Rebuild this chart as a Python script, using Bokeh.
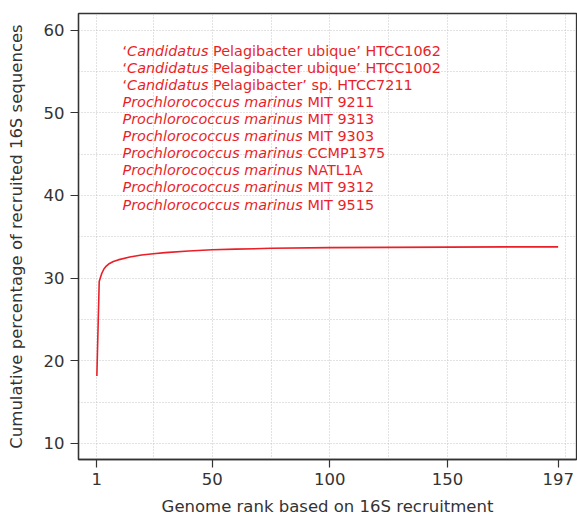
from bokeh.plotting import figure
from bokeh.models import Range1d, FixedTicker, ColumnDataSource
from bokeh.core.properties import value
from bokeh.embed import file_html
from bokeh.resources import INLINE

# ---- data ----
rank = [1, 2, 3, 4, 5, 6, 8, 10, 15, 20, 25, 30, 40, 50, 60, 75, 100, 125, 150, 175, 197]
cum_pct = [18.15, 29.6, 30.5, 31.1, 31.45, 31.7, 32.0, 32.2, 32.55, 32.8, 32.95, 33.08,
           33.28, 33.42, 33.5, 33.6, 33.68, 33.72, 33.75, 33.77, 33.78]

x_tick_labels = [1, 50, 100, 150, 197]
y_tick_labels = [10, 20, 30, 40, 50, 60]
x_grid = [1, 25, 50, 75, 100, 125, 150, 175, 200]
y_grid = [10, 15, 20, 25, 30, 35, 40, 45, 50, 55, 60]

genome_quote = ["\u2018", "\u2018", "\u2018", "", "", "", "", "", "", ""]
genome_italic = ["Candidatus", "Candidatus", "Candidatus",
                 "Prochlorococcus marinus", "Prochlorococcus marinus",
                 "Prochlorococcus marinus", "Prochlorococcus marinus",
                 "Prochlorococcus marinus", "Prochlorococcus marinus",
                 "Prochlorococcus marinus"]
genome_rest = ["Pelagibacter ubique\u2019 HTCC1062", "Pelagibacter ubique\u2019 HTCC1002",
               "Pelagibacter\u2019 sp. HTCC7211", "MIT 9211", "MIT 9313", "MIT 9303",
               "CCMP1375", "NATL1A", "MIT 9312", "MIT 9515"]

RED = "#ea1f27"
DARK = "#333333"
FONT = "DejaVu Sans"

p = figure(width=577, height=518,
           x_range=Range1d(-6.8, 204.8), y_range=Range1d(8.06, 62.0),
           output_backend="svg", toolbar_location=None,
           min_border_left=78, min_border_right=1, min_border_top=13, min_border_bottom=59)
p.background_fill_color = "white"
p.border_fill_color = "white"
p.outline_line_color = DARK
p.outline_line_width = 1.3

# axes
for ax in (p.xaxis[0], p.yaxis[0]):
    ax.axis_line_color = DARK
    ax.axis_line_width = 1.3
    ax.major_tick_line_color = DARK
    ax.major_tick_line_width = 1.2
    ax.major_tick_out = 8
    ax.major_tick_in = 0
    ax.minor_tick_line_color = None
    ax.major_label_text_font = FONT
    ax.major_label_text_font_size = "16.5px"
    ax.major_label_text_color = DARK
    ax.axis_label_text_font = FONT
    ax.axis_label_text_font_size = "16.5px"
    ax.axis_label_text_font_style = "normal"
    ax.axis_label_text_color = DARK

p.xaxis.ticker = FixedTicker(ticks=x_tick_labels)
p.yaxis.ticker = FixedTicker(ticks=y_tick_labels)
p.xaxis.major_label_standoff = 5
p.yaxis.major_label_standoff = 6
p.xaxis.axis_label = "Genome rank based on 16S recruitment"
p.yaxis.axis_label = "Cumulative percentage of recruited 16S sequences"
p.xaxis.axis_label_standoff = 9
p.yaxis.axis_label_standoff = 15

# grids
p.xgrid.ticker = FixedTicker(ticks=x_grid)
p.ygrid.ticker = FixedTicker(ticks=y_grid)
for g in (p.xgrid[0], p.ygrid[0]):
    g.grid_line_color = "#c4c4c4"
    g.grid_line_dash = "1 2"
    g.grid_line_width = 1

# curve
p.line(rank, cum_pct, line_color=RED, line_width=1.6)

# annotation text block (positions are layout, not data)
n = len(genome_italic)
text_x = [11.9] * n
text_y = [57.49 - i * 2.066 for i in range(n)]
space = 4.58
quote_w = [space if q else 0.0 for q in genome_quote]
italic_w = [81.4 if t == "Candidatus" else 180.3 for t in genome_italic]
src = ColumnDataSource(dict(
    x=text_x, y=text_y,
    q=genome_quote, it=genome_italic, rest=genome_rest,
    off_it=quote_w,
    off_rest=[a + b + space for a, b in zip(quote_w, italic_w)],
))
common = dict(x="x", y="y", source=src, text_color=RED, text_font_size="14.4px",
              text_baseline="alphabetic", text_align="left")
p.text(text="q", text_font=value(FONT), **common)
p.text(text="it", x_offset="off_it", text_font=value(FONT), text_font_style="italic", **common)
p.text(text="rest", x_offset="off_rest", text_font=value(FONT), **common)

open("out.html", "w").write(file_html(p, INLINE))
